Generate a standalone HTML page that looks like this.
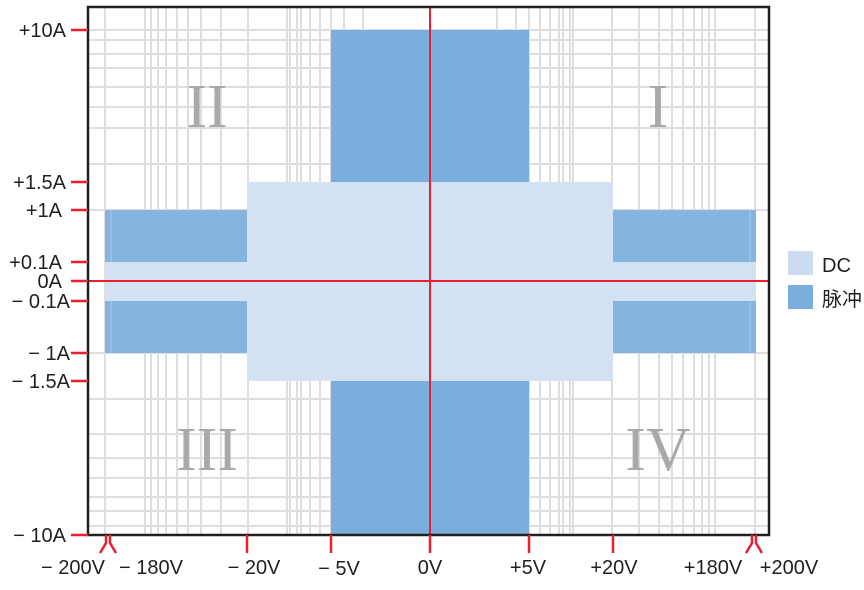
<!DOCTYPE html>
<html><head><meta charset="utf-8"><style>
html,body{margin:0;padding:0;background:#fff;}
svg{display:block;}
.lab{font-family:"Liberation Sans","Noto Sans CJK SC",sans-serif;font-size:20px;fill:#231f20;}
.rom{font-family:"Liberation Serif",serif;font-size:62px;fill:#a7a9ac;text-anchor:middle;}
</style></head><body>
<svg width="864" height="590" viewBox="0 0 864 590" xmlns="http://www.w3.org/2000/svg">
<g stroke="#dedede" stroke-width="2">
<line x1="105" y1="8" x2="105" y2="535"/><line x1="145" y1="8" x2="145" y2="535"/><line x1="151" y1="8" x2="151" y2="535"/>
<line x1="158" y1="8" x2="158" y2="535"/><line x1="166" y1="8" x2="166" y2="535"/><line x1="177" y1="8" x2="177" y2="535"/>
<line x1="188" y1="8" x2="188" y2="535"/><line x1="201" y1="8" x2="201" y2="535"/><line x1="221" y1="8" x2="221" y2="535"/>
<line x1="248" y1="8" x2="248" y2="535"/><line x1="287" y1="8" x2="287" y2="535"/><line x1="290" y1="8" x2="290" y2="535"/>
<line x1="297" y1="8" x2="297" y2="535"/><line x1="301" y1="8" x2="301" y2="535"/><line x1="310" y1="8" x2="310" y2="535"/>
<line x1="320" y1="8" x2="320" y2="535"/><line x1="331" y1="8" x2="331" y2="535"/><line x1="344" y1="8" x2="344" y2="535"/>
<line x1="363" y1="8" x2="363" y2="535"/>
<line x1="755" y1="8" x2="755" y2="535"/><line x1="715" y1="8" x2="715" y2="535"/><line x1="709" y1="8" x2="709" y2="535"/>
<line x1="702" y1="8" x2="702" y2="535"/><line x1="694" y1="8" x2="694" y2="535"/><line x1="683" y1="8" x2="683" y2="535"/>
<line x1="672" y1="8" x2="672" y2="535"/><line x1="659" y1="8" x2="659" y2="535"/><line x1="639" y1="8" x2="639" y2="535"/>
<line x1="612" y1="8" x2="612" y2="535"/><line x1="573" y1="8" x2="573" y2="535"/><line x1="570" y1="8" x2="570" y2="535"/>
<line x1="563" y1="8" x2="563" y2="535"/><line x1="559" y1="8" x2="559" y2="535"/><line x1="550" y1="8" x2="550" y2="535"/>
<line x1="540" y1="8" x2="540" y2="535"/><line x1="529" y1="8" x2="529" y2="535"/><line x1="516" y1="8" x2="516" y2="535"/>
<line x1="497" y1="8" x2="497" y2="535"/>
<line x1="88" y1="30" x2="768" y2="30"/><line x1="88" y1="40" x2="768" y2="40"/><line x1="88" y1="54" x2="768" y2="54"/>
<line x1="88" y1="68" x2="768" y2="68"/><line x1="88" y1="87" x2="768" y2="87"/><line x1="88" y1="107" x2="768" y2="107"/>
<line x1="88" y1="128" x2="768" y2="128"/><line x1="88" y1="164" x2="768" y2="164"/><line x1="88" y1="210" x2="768" y2="210"/>
<line x1="88" y1="353" x2="768" y2="353"/>
<line x1="88" y1="399" x2="768" y2="399"/><line x1="88" y1="434" x2="768" y2="434"/><line x1="88" y1="458" x2="768" y2="458"/>
<line x1="88" y1="478" x2="768" y2="478"/><line x1="88" y1="497" x2="768" y2="497"/><line x1="88" y1="511" x2="768" y2="511"/>
<line x1="88" y1="526" x2="768" y2="526"/>
</g>
<rect x="247" y="182" width="366" height="199" fill="#d4e1f3"/>
<rect x="105" y="262" width="651" height="39" fill="#d4e1f3"/>
<rect x="105" y="210" width="142" height="52" fill="#86b4e0"/>
<rect x="105" y="301" width="142" height="52" fill="#86b4e0"/>
<rect x="613" y="210" width="143" height="52" fill="#86b4e0"/>
<rect x="613" y="301" width="143" height="52" fill="#86b4e0"/>
<g stroke="#a9c9ea" stroke-width="1"><line x1="111" y1="210" x2="111" y2="262"/><line x1="111" y1="301" x2="111" y2="353"/><line x1="750" y1="210" x2="750" y2="262"/><line x1="750" y1="301" x2="750" y2="353"/></g>
<rect x="331" y="30" width="198" height="152" fill="#7aaedc"/>
<rect x="331" y="381" width="198" height="154" fill="#7aaedc"/>
<text class="rom" x="207" y="127">II</text>
<text class="rom" x="658" y="127">I</text>
<text class="rom" x="207" y="470">III</text>
<text class="rom" x="658" y="470">IV</text>
<line x1="430" y1="7" x2="430" y2="535" stroke="#e8202f" stroke-width="2"/>
<line x1="88" y1="281" x2="768" y2="281" stroke="#e8202f" stroke-width="2"/>
<rect x="88" y="7" width="681" height="528" fill="none" stroke="#231f20" stroke-width="2.5"/>
<g stroke="#e8202f" stroke-width="2.5">
<line x1="71" y1="30" x2="88" y2="30"/><line x1="71" y1="182" x2="88" y2="182"/><line x1="71" y1="210" x2="88" y2="210"/>
<line x1="71" y1="262" x2="88" y2="262"/><line x1="71" y1="281" x2="88" y2="281"/><line x1="71" y1="301" x2="88" y2="301"/>
<line x1="71" y1="353" x2="88" y2="353"/><line x1="71" y1="381" x2="88" y2="381"/><line x1="71" y1="535" x2="88" y2="535"/>
<line x1="247" y1="535" x2="247" y2="553"/><line x1="331" y1="535" x2="331" y2="553"/><line x1="430" y1="535" x2="430" y2="553"/>
<line x1="529" y1="535" x2="529" y2="553"/><line x1="613" y1="535" x2="613" y2="553"/>
<polyline points="106,535 106,543 100,553" fill="none"/><polyline points="110,535 110,543 116,553" fill="none"/>
<polyline points="752,535 752,543 746,553" fill="none"/><polyline points="756,535 756,543 762,553" fill="none"/>
</g>
<g class="lab" text-anchor="end">
<text x="66" y="37">+10A</text><text x="66" y="189">+1.5A</text><text x="62" y="217">+1A</text>
<text x="62" y="269">+0.1A</text><text x="62" y="288">0A</text><text x="70" y="308">− 0.1A</text>
<text x="70" y="360">− 1A</text><text x="70" y="388">− 1.5A</text><text x="66" y="542">− 10A</text>
</g>
<g class="lab" text-anchor="middle">
<text x="73" y="574">− 200V</text><text x="151" y="574">− 180V</text><text x="254" y="574">− 20V</text>
<text x="339" y="575">− 5V</text><text x="430" y="574">0V</text><text x="528" y="574">+5V</text>
<text x="614" y="574">+20V</text><text x="713" y="574">+180V</text><text x="789" y="574">+200V</text>
</g>
<rect x="788" y="251" width="25" height="24" fill="#cbdcf1"/>
<rect x="788" y="285" width="25" height="24" fill="#7aaedc"/>
<text class="lab" x="822" y="272">DC</text>
<text class="lab" x="822" y="306">脉冲</text>
</svg>
</body></html>
